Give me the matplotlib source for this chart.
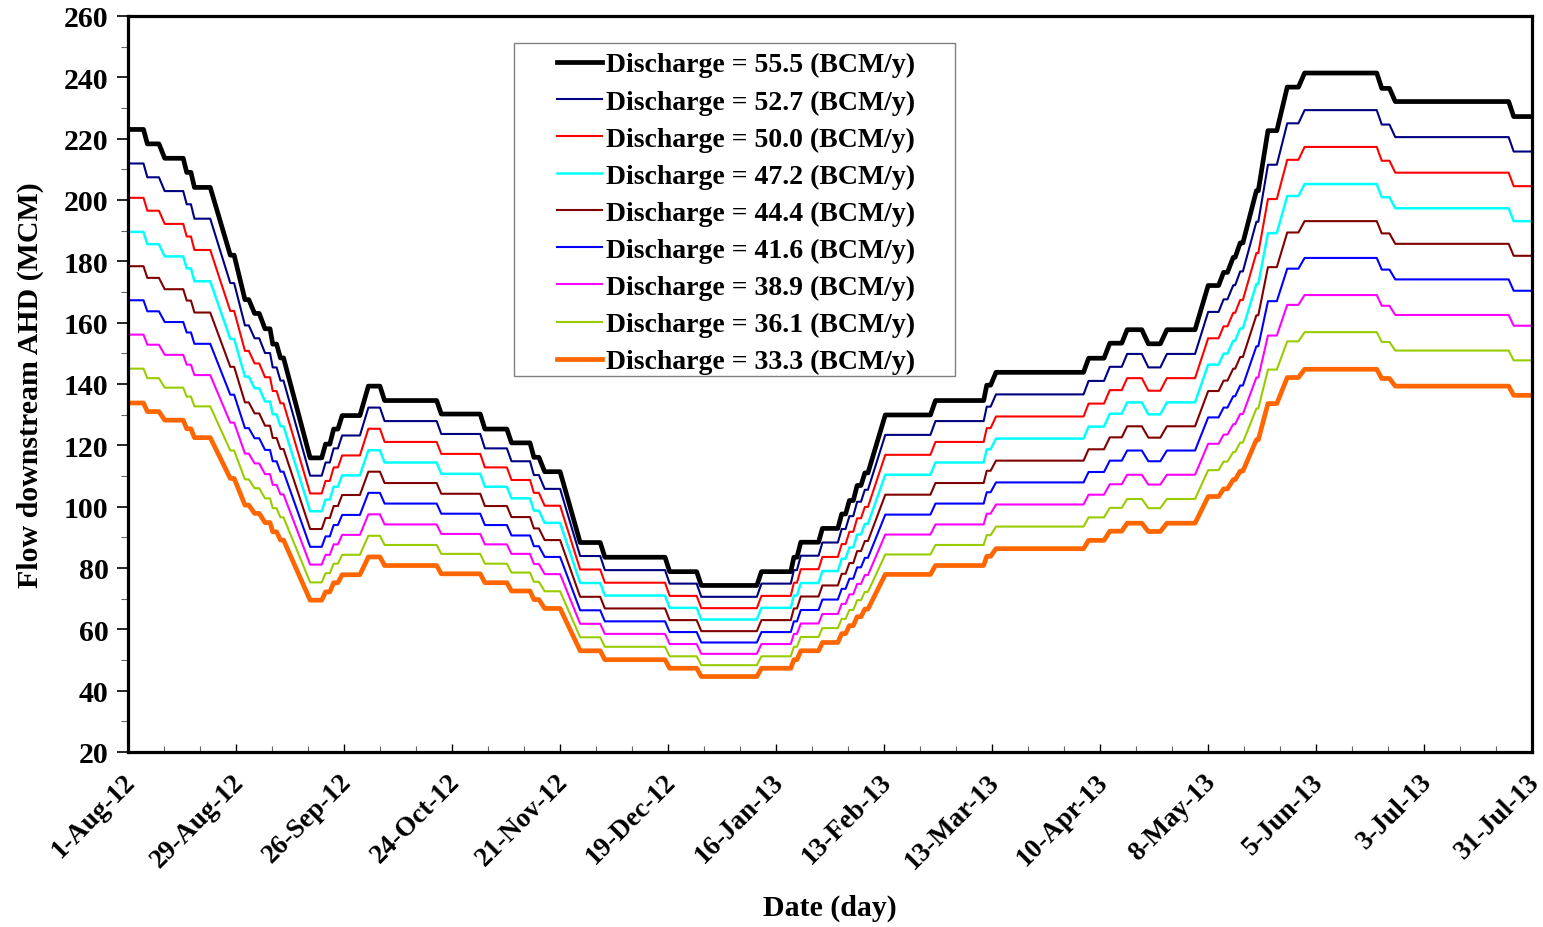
"""
Flow downstream AHD for nine discharge scenarios, Aug-2012 to Jul-2013.
Writes out.png.
"""

import matplotlib
matplotlib.use("Agg")
import matplotlib.pyplot as plt
import matplotlib.ticker as mticker
import matplotlib.transforms as mtransforms
from matplotlib.patches import Rectangle

plt.rcParams["font.family"] = ["Liberation Serif", "DejaVu Serif"]
plt.rcParams["font.weight"] = "bold"

# plateau start / end (days since 1-Aug-12), shared by every series
step_start = [0, 5, 9.5, 15.2, 17.2, 26.5, 30.3, 32.8, 35.5, 37.5, 39.5,
              47.2, 51.2, 53.3, 55.5, 62.3, 66.5, 81.2, 92.5, 99.4, 105.2, 108,
              117.2, 123.6, 140.4, 148.6, 164.2, 172.6, 174.4, 180, 185, 187, 189, 191,
              196.3, 209.3, 222.6, 225, 249, 254.5, 259, 264.5, 269.3,
              280, 284, 286.5, 288.3, 292.5, 295.5, 300.5, 305, 325, 328.5, 359.2]
step_end = [4, 8, 14.3, 16.3, 21.3, 27.5, 31.3, 34, 36.8, 38.5, 40.3,
            50.2, 52.3, 54.4, 60.1, 65.3, 80, 91.3, 98.2, 104.2, 106.5, 112,
            122.4, 139.2, 147.4, 163, 171.8, 173.4, 179, 184, 186, 188, 190, 191.8,
            208, 221.8, 223.6, 247.7, 253, 257.6, 262.8, 267.6, 276.6,
            282.7, 285, 287, 289, 293, 297.8, 303.4, 323.7, 327, 357.9, 364]

q_555 = [223.0, 218.3, 213.6, 209.0, 204.1, 182.0, 167.5, 163.0, 158.0, 153.0, 148.5,
         115.9, 120.4, 125.3, 129.7, 139.3, 134.6, 130.2, 125.3, 120.8, 116.1, 111.4,
         88.3, 83.5, 78.8, 74.3, 78.8, 83.5, 88.4, 92.9, 97.6, 102.0, 106.9, 111.0,
         129.9, 134.6, 139.6, 143.8, 148.4, 153.3, 157.7, 153.1, 157.7,
         172.1, 176.4, 181.3, 186.0, 203.0, 222.6, 236.8, 241.4, 236.4, 232.1, 227.2]
q_527 = [211.9, 207.4, 202.9, 198.6, 193.9, 172.9, 159.1, 154.9, 150.1, 145.4, 141.1,
         110.1, 114.4, 119.0, 123.2, 132.3, 127.9, 123.7, 119.0, 114.8, 110.3, 105.8,
         83.9, 79.3, 74.9, 70.6, 74.9, 79.3, 84.0, 88.3, 92.7, 96.9, 101.6, 105.5,
         123.4, 127.9, 132.6, 136.6, 141.0, 145.6, 149.8, 145.4, 149.8,
         163.5, 167.6, 172.2, 176.7, 192.9, 211.5, 225.0, 229.3, 224.6, 220.5, 215.8]
q_500 = [200.7, 196.5, 192.2, 188.1, 183.7, 163.8, 150.8, 146.7, 142.2, 137.7, 133.7,
         104.3, 108.4, 112.8, 116.7, 125.4, 121.1, 117.2, 112.8, 108.7, 104.5, 100.3,
         79.5, 75.2, 70.9, 66.9, 70.9, 75.2, 79.6, 83.6, 87.8, 91.8, 96.2, 99.9,
         116.9, 121.1, 125.6, 129.4, 133.6, 138.0, 141.9, 137.8, 141.9,
         154.9, 158.8, 163.2, 167.4, 182.7, 200.3, 213.1, 217.3, 212.8, 208.9, 204.5]
q_472 = [189.6, 185.6, 181.6, 177.7, 173.5, 154.7, 142.4, 138.6, 134.3, 130.1, 126.2,
         98.5, 102.3, 106.5, 110.2, 118.4, 114.4, 110.7, 106.5, 102.7, 98.7, 94.7,
         75.1, 71.0, 67.0, 63.2, 67.0, 71.0, 75.1, 79.0, 83.0, 86.7, 90.9, 94.4,
         110.4, 114.4, 118.7, 122.2, 126.1, 130.3, 134.0, 130.1, 134.0,
         146.3, 149.9, 154.1, 158.1, 172.6, 189.2, 201.3, 205.2, 200.9, 197.3, 193.1]
q_444 = [178.4, 174.6, 170.9, 167.2, 163.3, 145.6, 134.0, 130.4, 126.4, 122.4, 118.8,
         92.7, 96.3, 100.2, 103.8, 111.4, 107.7, 104.2, 100.2, 96.6, 92.9, 89.1,
         70.6, 66.8, 63.0, 59.4, 63.0, 66.8, 70.7, 74.3, 78.1, 81.6, 85.5, 88.8,
         103.9, 107.7, 111.7, 115.0, 118.7, 122.6, 126.2, 122.5, 126.2,
         137.7, 141.1, 145.0, 148.8, 162.4, 178.1, 189.4, 193.1, 189.1, 185.7, 181.8]
q_416 = [167.3, 163.7, 160.2, 156.8, 153.1, 136.5, 125.6, 122.3, 118.5, 114.8, 111.4,
         86.9, 90.3, 94.0, 97.3, 104.5, 101.0, 97.7, 94.0, 90.6, 87.1, 83.6,
         66.2, 62.6, 59.1, 55.7, 59.1, 62.6, 66.3, 69.7, 73.2, 76.5, 80.2, 83.3,
         97.4, 101.0, 104.7, 107.9, 111.3, 115.0, 118.3, 114.8, 118.3,
         129.1, 132.3, 136.0, 139.5, 152.3, 167.0, 177.6, 181.1, 177.3, 174.1, 170.4]
q_389 = [156.1, 152.8, 149.5, 146.3, 142.9, 127.4, 117.3, 114.1, 110.6, 107.1, 104.0,
         81.1, 84.3, 87.7, 90.8, 97.5, 94.2, 91.1, 87.7, 84.6, 81.3, 78.0,
         61.8, 58.5, 55.2, 52.0, 55.2, 58.5, 61.9, 65.0, 68.3, 71.4, 74.8, 77.7,
         90.9, 94.2, 97.7, 100.7, 103.9, 107.3, 110.4, 107.2, 110.4,
         120.5, 123.5, 126.9, 130.2, 142.1, 155.8, 165.8, 169.0, 165.5, 162.5, 159.0]
q_361 = [145.0, 141.9, 138.8, 135.9, 132.7, 118.3, 108.9, 106.0, 102.7, 99.5, 96.5,
         75.3, 78.3, 81.4, 84.3, 90.5, 87.5, 84.6, 81.4, 78.5, 75.5, 72.4,
         57.4, 54.3, 51.2, 48.3, 51.2, 54.3, 57.5, 60.4, 63.4, 66.3, 69.5, 72.2,
         84.4, 87.5, 90.7, 93.5, 96.5, 99.6, 102.5, 99.5, 102.5,
         111.9, 114.7, 117.8, 120.9, 132.0, 144.7, 153.9, 156.9, 153.7, 150.9, 147.7]
q_333 = [133.8, 131.0, 128.2, 125.4, 122.5, 109.2, 100.5, 97.8, 94.8, 91.8, 89.1,
         69.5, 72.2, 75.2, 77.8, 83.6, 80.8, 78.1, 75.2, 72.5, 69.7, 66.8,
         53.0, 50.1, 47.3, 44.6, 47.3, 50.1, 53.0, 55.7, 58.6, 61.2, 64.1, 66.6,
         77.9, 80.8, 83.8, 86.3, 89.0, 92.0, 94.6, 91.9, 94.6,
         103.3, 105.8, 108.8, 111.6, 121.8, 133.6, 142.1, 144.8, 141.8, 139.3, 136.3]

labels = ["Discharge = 55.5 (BCM/y)", "Discharge = 52.7 (BCM/y)",
          "Discharge = 50.0 (BCM/y)", "Discharge = 47.2 (BCM/y)",
          "Discharge = 44.4 (BCM/y)", "Discharge = 41.6 (BCM/y)",
          "Discharge = 38.9 (BCM/y)", "Discharge = 36.1 (BCM/y)",
          "Discharge = 33.3 (BCM/y)"]
series = [q_555, q_527, q_500, q_472, q_444, q_416, q_389, q_361, q_333]

date_ticks = [0, 28, 56, 84, 112, 140, 168, 196, 224, 252, 280, 308, 336, 364]
date_labels = ["1-Aug-12", "29-Aug-12", "26-Sep-12", "24-Oct-12", "21-Nov-12",
               "19-Dec-12", "16-Jan-13", "13-Feb-13", "13-Mar-13", "10-Apr-13",
               "8-May-13", "5-Jun-13", "3-Jul-13", "31-Jul-13"]

colors = ["#000000", "#000080", "#FF0000", "#00FFFF", "#800000",
          "#0000FF", "#FF00FF", "#99CC00", "#FF6600"]
widths = [3.4, 1.5, 1.5, 1.8, 1.5, 1.5, 1.5, 1.5, 3.4]


def stepped(levels):
    xs, ys = [], []
    for s, e, v in zip(step_start, step_end, levels):
        xs += [s, e]
        ys += [v, v]
    return xs, ys


fig = plt.figure(figsize=(15.43, 9.28), dpi=100)
ax = fig.add_axes([0.083, 0.1886, 0.910, 0.7931])

handles = []
for vals, c, lw, lab in zip(series, colors, widths, labels):
    xs, ys = stepped(vals)
    h, = ax.plot(xs, ys, color=c, lw=lw, label=lab, solid_joinstyle="round")
    handles.append(h)

ax.set_xlim(0, 364)
ax.set_ylim(20, 260)
ax.yaxis.set_major_locator(mticker.MultipleLocator(20))
ax.yaxis.set_minor_locator(mticker.MultipleLocator(10))
ax.xaxis.set_minor_locator(mticker.MultipleLocator(28 / 3))

ax.tick_params(axis="y", which="major", direction="out", length=8, width=1.2, pad=6)
ax.tick_params(axis="y", which="minor", direction="out", length=5, width=0.8, color="#666")
ax.tick_params(axis="x", which="major", direction="in", length=6, width=1.0, pad=10)
ax.tick_params(axis="x", which="minor", direction="in", length=4, width=0.8, color="#666")

ax.set_xticks(date_ticks)
ax.set_xticklabels(date_labels, rotation=45, ha="right", va="top",
                   rotation_mode="anchor", fontsize=19.5, fontweight="bold")
# nudge the slanted dates a little left/down, like the original
shift = mtransforms.ScaledTranslation(-5 / 100, -3 / 100, fig.dpi_scale_trans)
for t in ax.get_xticklabels():
    t.set_transform(t.get_transform() + shift)
for t in ax.get_yticklabels():
    t.set_fontsize(21.5)
    t.set_fontweight("bold")

for sp in ax.spines.values():
    sp.set_linewidth(2.3)

ax.set_xlabel("Date (day)", fontsize=21.5, fontweight="bold", labelpad=15)
ax.set_ylabel("Flow downstream AHD (MCM)", fontsize=21.5, fontweight="bold", labelpad=14)

# legend box drawn by hand so the inner padding matches
ax.add_patch(Rectangle((0.2749, 0.511), 0.3141, 0.4524, transform=ax.transAxes,
                       facecolor="white", edgecolor="#808080", lw=1.0, zorder=4))
leg = ax.legend(handles=handles, loc="upper left", bbox_to_anchor=(0.3056, 0.951),
                frameon=False, fontsize=20, handlelength=1.6, handletextpad=0.15,
                labelspacing=0.42, borderpad=0, borderaxespad=0)
leg.set_zorder(5)
for t in leg.get_texts():
    t.set_fontweight("bold")

fig.savefig("out.png", dpi=100)
